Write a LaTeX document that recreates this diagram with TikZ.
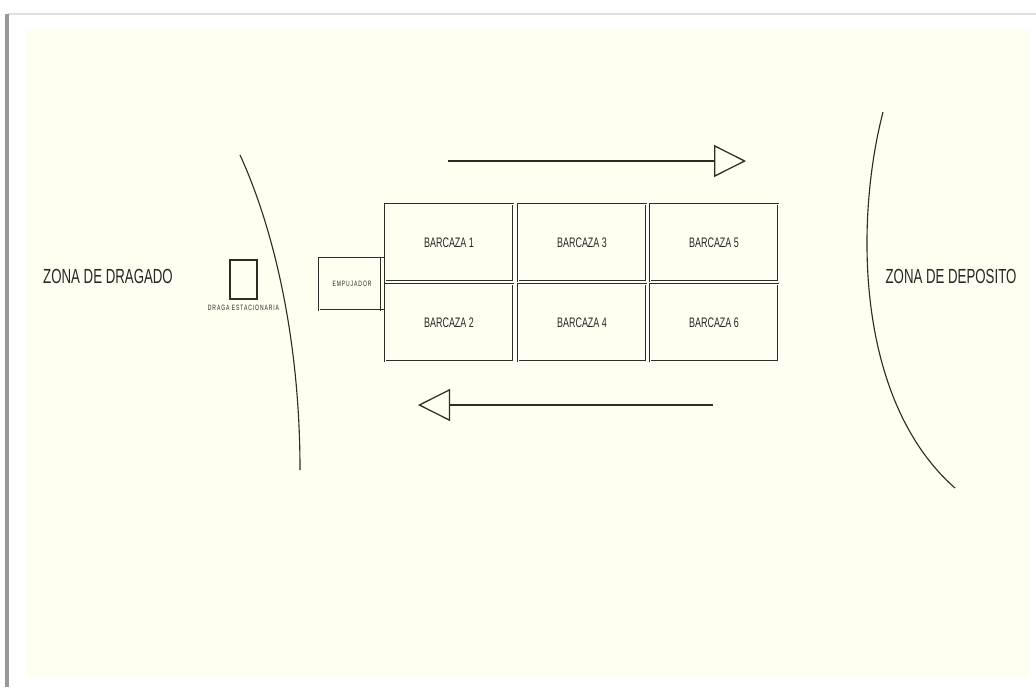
\documentclass[tikz,border=0pt]{standalone}
\usepackage{fontspec}
\usepackage{tikz}
\usetikzlibrary{positioning,arrows.meta}
\newfontfamily\cadfont[FakeStretch=0.65]{Liberation Sans}
\newfontfamily\cadtiny[FakeStretch=0.65,LetterSpace=12]{Liberation Sans}
\definecolor{cadpaper}{RGB}{254,254,241}
\definecolor{cadline}{RGB}{45,45,40}

\begin{document}
\begin{tikzpicture}[x=0.025cm, y=-0.025cm,
  every node/.style={font=\cadfont, text=black!85},
  barge/.style={rectangle, draw=cadline, double, double distance=0.5pt,
                line width=0.7pt, minimum width=3.2cm, minimum height=1.925cm,
                inner sep=0pt, font=\cadfont\fontsize{9.8}{11}\selectfont},
  zone/.style={font=\cadfont\fontsize{14.5}{16}\selectfont},
  tinytext/.style={font=\cadtiny\fontsize{5.5}{6}\selectfont, inner sep=0pt},
  flow/.style={draw=cadline, line width=0.9pt, line join=miter,
               -{Triangle[open, length=0.8cm, width=0.8cm]}},
  shore/.style={draw=cadline, line width=0.8pt}
]
\useasboundingbox (0,0) rectangle (1036,687);
% paper and frame
\fill[white] (0,0) rectangle (1036,687);
\draw[black!12, line width=1pt] (8,14) -- (1036,14);
\draw[black!40, line width=2.4pt] (7,14) -- (7,687);
\fill[cadpaper] (26,30) rectangle (1030,678);
% shore lines
\draw[shore] (240,155) .. controls (270,220) and (300,330) .. (300,470);
\draw[shore] (883,112) .. controls (855,220) and (855,400) .. (955,488);
% zones
\node[zone] (dragado) at (108,276) {ZONA DE DRAGADO};
\node[zone] (deposito) at (951,276) {ZONA DE DEPOSITO};
% stationary dredge
\node[rectangle, draw=cadline, line width=1.1pt, minimum width=0.675cm,
      minimum height=0.975cm, inner sep=0pt] (draga) at (243.5,279.5) {};
\node[tinytext, below=0.13cm of draga] (dragalbl) {DRAGA ESTACIONARIA};
% pusher
\node[rectangle, draw=cadline, double, double distance=0.5pt, line width=0.7pt,
      minimum width=1.65cm, minimum height=1.3cm, inner sep=0pt,
      font=\cadtiny\fontsize{5.5}{6}\selectfont] (empujador) at (352,284) {EMPUJADOR\hspace{0.2cm}};
\draw[cadline, line width=0.8pt] ([xshift=-0.125cm]empujador.north east) -- ([xshift=-0.125cm]empujador.south east);
% barges
\foreach \n/\x/\y in {1/449/242.5, 2/449/322.5, 3/582/242.5, 4/582/322.5, 5/714/242.5, 6/714/322.5}
  \node[barge] (b\n) at (\x,\y) {BARCAZA \n};
% travel directions
\coordinate (ida0) at (448,161);
\coordinate (ida1) at (746,161);
\coordinate (vuelta0) at (713,405);
\coordinate (vuelta1) at (418,405);
\draw[flow] (ida0) -- (ida1);
\draw[flow] (vuelta0) -- (vuelta1);
\end{tikzpicture}
\end{document}
